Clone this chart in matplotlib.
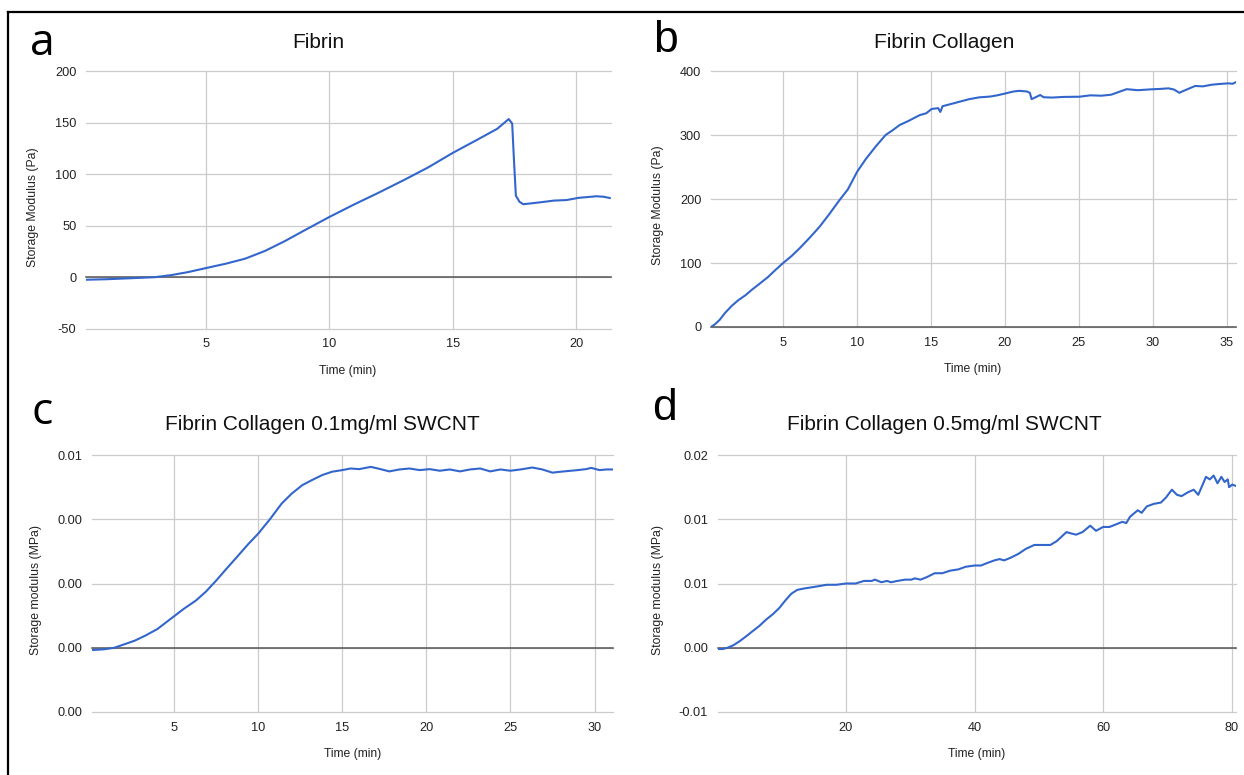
import matplotlib
matplotlib.use("Agg")
import matplotlib.pyplot as plt
from matplotlib.lines import Line2D

# ---- data ----
# a: Fibrin (Pa)
fib_t = [0.15, 1.0, 2.0, 2.94, 3.6, 4.3, 5.0, 5.8, 6.6, 7.4, 8.2, 9.0, 10.0, 11.0, 12.0,
         13.0, 14.0, 15.0, 16.0, 16.8, 17.26, 17.4, 17.48, 17.55, 17.7, 17.85, 18.1,
         18.6, 19.1, 19.6, 20.1, 20.5, 20.8, 21.1, 21.35]
fib_g = [-2.5, -2.0, -1.0, 0.0, 2.0, 5.0, 8.8, 13.0, 18.0, 25.5, 35.0, 45.5, 58.4, 70.5, 82.0,
         94.0, 106.5, 120.6, 133.5, 144.0, 153.4, 149.0, 110.0, 79.0, 73.0, 70.8, 71.4,
         72.8, 74.3, 74.8, 77.0, 77.8, 78.5, 78.0, 76.8]

# b: Fibrin Collagen (Pa)
fc_t = [0.15, 0.4, 0.73, 1.1, 1.55, 2.0, 2.5, 2.9, 3.4, 4.0, 4.5, 5.0, 5.6, 6.14, 6.8, 7.49,
        8.1, 8.84, 9.4, 10.03, 10.6, 11.27, 11.95, 12.4, 12.9, 13.5, 14.25, 14.7, 15.06,
        15.5, 15.65, 15.8, 16.3, 16.95, 17.6, 18.3, 19.0, 19.5, 20.06, 20.6, 21.0, 21.5,
        21.7, 21.82, 22.0, 22.4, 22.63, 23.2, 24.0, 25.05, 25.8, 26.54, 27.2, 28.24, 29.0,
        29.93, 30.5, 31.07, 31.45, 31.8, 32.3, 32.87, 33.4, 34.0, 34.5, 35.13, 35.4, 35.65]
fc_g = [0, 4, 11, 22, 33, 42, 50, 58, 67, 78, 89, 99.5, 111, 123, 139, 156.7,
        175, 198.4, 215, 242.7, 262, 281.7, 300, 307, 315.6, 322, 331, 334, 340.6,
        342, 336, 345, 348, 352, 356, 358.9, 360, 362, 365, 368, 369, 368,
        366, 356, 358, 362.5, 359, 358.5, 359.5, 359.8, 362, 361.4, 363, 371.6, 370,
        371.4, 372, 372.9, 371, 366, 371, 376.6, 376, 378.6, 379.7, 380.7, 380, 382.8]

# c: Fibrin Collagen 0.1mg/ml SWCNT (MPa)
c01_t = [0.12, 0.8, 1.45, 2.0, 2.66, 3.3, 4.0, 5.0, 5.6, 6.3, 6.9, 7.52, 8.1, 8.73, 9.4,
         10.0, 10.7, 11.4, 12.0, 12.62, 13.2, 13.83, 14.4, 15.0, 15.5, 16.0, 16.7, 17.2,
         17.8, 18.4, 19.0, 19.6, 20.2, 20.8, 21.4, 22.0, 22.6, 23.2, 23.8, 24.4, 25.0,
         25.6, 26.3, 26.9, 27.5, 27.8, 28.4, 29.0, 29.5, 29.8, 30.3, 30.7, 31.1]
c01_g = [-0.00007, -0.00005, 0.0, 0.0001, 0.00022, 0.00038, 0.00058, 0.00098, 0.00122,
         0.00147, 0.00175, 0.0021, 0.00245, 0.00282, 0.00322, 0.00355, 0.00400, 0.00449,
         0.0048, 0.00506, 0.00522, 0.00538, 0.00548, 0.00553, 0.00558, 0.00556, 0.00563,
         0.00557, 0.00549, 0.00555, 0.00558, 0.00553, 0.00556, 0.00551, 0.00555, 0.00549,
         0.00555, 0.00558, 0.00549, 0.00555, 0.00551, 0.00555, 0.00561, 0.00555, 0.00545,
         0.00547, 0.00550, 0.00553, 0.00556, 0.0056, 0.00553, 0.00555, 0.00555]

# d: Fibrin Collagen 0.5mg/ml SWCNT (MPa)
c05_t = [0.03, 0.8, 1.58, 2.5, 3.43, 4.5, 5.5, 6.53, 7.6, 8.6, 9.64, 10.6, 11.49, 12.4,
         13.36, 14.6, 15.83, 17.0, 18.5, 20.0, 21.5, 22.8, 24.0, 24.5, 25.5, 26.4, 27.0,
         28.0, 29.2, 30.2, 30.7, 31.6, 32.6, 33.8, 35.0, 36.2, 37.5, 38.6, 40.0, 41.0,
         42.0, 43.1, 43.9, 44.6, 45.6, 46.8, 48.0, 49.3, 50.5, 51.8, 52.8, 54.3, 55.0,
         55.8, 56.8, 58.0, 58.9, 60.0, 61.0, 62.0, 63.0, 63.6, 64.2, 65.4, 66.0, 66.8,
         67.9, 69.0, 69.8, 70.7, 71.5, 72.2, 73.2, 74.1, 74.8, 75.5, 76.0, 76.6, 77.2,
         77.8, 78.4, 78.9, 79.4, 79.6, 80.1, 80.6]
c05_g = [-0.0001, -0.0001, 0.0, 0.0002, 0.0005, 0.0009, 0.0013, 0.0017, 0.0022, 0.0026,
         0.0031, 0.0037, 0.0042, 0.0045, 0.0046, 0.0047, 0.0048, 0.0049, 0.0049, 0.0050,
         0.0050, 0.0052, 0.0052, 0.0053, 0.0051, 0.0052, 0.0051, 0.0052, 0.0053, 0.0053,
         0.0054, 0.0053, 0.0055, 0.0058, 0.0058, 0.0060, 0.0061, 0.0063, 0.0064, 0.0064,
         0.0066, 0.0068, 0.0069, 0.0068, 0.0070, 0.0073, 0.0077, 0.0080, 0.0080, 0.0080,
         0.0083, 0.0090, 0.0089, 0.0088, 0.0090, 0.0095, 0.0091, 0.0094, 0.0094, 0.0096,
         0.0098, 0.0097, 0.0102, 0.0107, 0.0105, 0.0110, 0.0112, 0.0113, 0.0117, 0.0123,
         0.0119, 0.0118, 0.0121, 0.0123, 0.0119, 0.0127, 0.0133, 0.0131, 0.0134, 0.0128,
         0.0133, 0.0129, 0.0131, 0.0125, 0.0127, 0.0126]

# tick values and the labels the chart printed for them
ticks_a = [-50, 0, 50, 100, 150, 200]
ticks_b = [0, 100, 200, 300, 400]
ticks_c = [-0.002, 0.0, 0.002, 0.004, 0.006]
labels_c = ["0.00", "0.00", "0.00", "0.00", "0.01"]
ticks_d = [-0.005, 0.0, 0.005, 0.010, 0.015]
labels_d = ["-0.01", "0.00", "0.01", "0.01", "0.02"]

W, H = 1244, 775
LINE = "#3366cc"
GRID = "#cccccc"
TXT = "#222222"
FONT = "Liberation Sans"

fig = plt.figure(figsize=(W / 100, H / 100), dpi=100)


def box(left, right, top, bottom):
    return [left / W, 1 - bottom / H, (right - left) / W, (bottom - top) / H]


def put(x, y, s, **kw):
    fig.text(x / W, 1 - y / H, s, ha="center", va="center", **kw)


def panel(rect, t, g, xlim, xticks, yticks, ylabels):
    ax = fig.add_axes(rect)
    ax.plot(t, g, color=LINE, lw=1.5, zorder=3)
    ax.set_xlim(*xlim)
    ax.set_ylim(yticks[0], yticks[-1])
    ax.set_xticks(xticks)
    ax.set_yticks(yticks)
    ax.set_yticklabels(ylabels)
    # gridlines, kept unclipped so the ones on the edges still show
    for v in xticks:
        ax.axvline(v, color=GRID, lw=0.9, zorder=1, clip_on=False)
    for v in yticks:
        ax.axhline(v, color=GRID, lw=0.9, zorder=1, clip_on=False)
    ax.axhline(0, color="#555555", lw=1.1, zorder=2, clip_on=False)
    for s in ax.spines.values():
        s.set_visible(False)
    ax.tick_params(length=0, labelsize=9.2, labelcolor=TXT, pad=7)
    for lab in ax.get_xticklabels() + ax.get_yticklabels():
        lab.set_family(FONT)
    return ax


panel(box(86, 611, 71, 328.7), fib_t, fib_g, (0.15, 21.4), [5, 10, 15, 20],
      ticks_a, [str(v) for v in ticks_a])
panel(box(711, 1235.5, 71, 327), fc_t, fc_g, (0.15, 35.6), [5, 10, 15, 20, 25, 30, 35],
      ticks_b, [str(v) for v in ticks_b])
panel(box(92, 613, 455, 712), c01_t, c01_g, (0.12, 31.1), [5, 10, 15, 20, 25, 30],
      ticks_c, labels_c)
panel(box(717.6, 1235.5, 455, 712), c05_t, c05_g, (0.03, 80.6), [20, 40, 60, 80],
      ticks_d, labels_d)

# titles
put(318, 42, "Fibrin", fontsize=15, family=FONT, color="#111111")
put(944, 42, "Fibrin Collagen", fontsize=15, family=FONT, color="#111111")
put(322, 425, "Fibrin Collagen 0.1mg/ml SWCNT", fontsize=15, family=FONT, color="#111111")
put(944, 425, "Fibrin Collagen 0.5mg/ml SWCNT", fontsize=15, family=FONT, color="#111111")

# axis titles
put(33, 207, "Storage Modulus (Pa)", fontsize=8.8, family=FONT, color=TXT, rotation=90)
put(658, 205, "Storage Modulus (Pa)", fontsize=8.8, family=FONT, color=TXT, rotation=90)
put(36, 590, "Storage modulus (MPa)", fontsize=8.8, family=FONT, color=TXT, rotation=90)
put(658, 590, "Storage modulus (MPa)", fontsize=8.8, family=FONT, color=TXT, rotation=90)
put(348, 371, "Time (min)", fontsize=8.7, family=FONT, color=TXT)
put(973, 369, "Time (min)", fontsize=8.7, family=FONT, color=TXT)
put(353, 754, "Time (min)", fontsize=8.7, family=FONT, color=TXT)
put(977, 754, "Time (min)", fontsize=8.7, family=FONT, color=TXT)

# panel letters
put(42, 44, "a", fontsize=32, family="Open Sans", color="black")
put(666, 40, "b", fontsize=32, family=FONT, color="black")
put(42, 413, "c", fontsize=32, family="Open Sans", color="black")
put(664, 408, "d", fontsize=32, family=FONT, color="black")

# outer frame (only left and top edges fall inside the picture)
fig.add_artist(Line2D([8 / W, 8 / W], [0, 1 - 12 / H], color="black", lw=1.6))
fig.add_artist(Line2D([8 / W, 1], [1 - 12 / H, 1 - 12 / H], color="black", lw=1.6))

fig.savefig("out.png", dpi=100)
